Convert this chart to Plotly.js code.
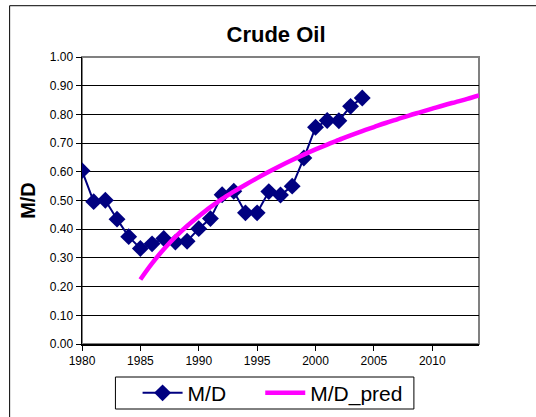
<!DOCTYPE html>
<html>
<head>
<meta charset="utf-8">
<script src="https://cdn.plot.ly/plotly-3.0.1.min.js"></script>
<style>
html,body{margin:0;padding:0;background:#fff;}
#chart{width:536px;height:417px;}
</style>
</head>
<body>
<div id="chart"></div>
<script>
const years = [1980,1981,1982,1983,1984,1985,1986,1987,1988,1989,1990,1991,1992,1993,1994,1995,1996,1997,1998,1999,2000,2001,2002,2003,2004];
const mdValues = [0.604,0.496,0.501,0.435,0.374,0.333,0.349,0.368,0.355,0.358,0.402,0.437,0.520,0.532,0.457,0.457,0.531,0.519,0.550,0.648,0.755,0.779,0.778,0.828,0.857];
const predYears = [1985,1986,1987,1988,1989,1990,1991,1992,1993,1994,1995,1996,1997,1998,1999,2000,2001,2002,2003,2004,2005,2006,2007,2008,2009,2010,2011,2012,2013,2014];
const predValues = [0.225,0.281,0.330,0.373,0.411,0.445,0.477,0.506,0.531,0.555,0.578,0.600,0.621,0.641,0.660,0.678,0.695,0.711,0.727,0.742,0.756,0.770,0.783,0.796,0.808,0.820,0.832,0.843,0.854,0.866];
const xTicks = [1980,1985,1990,1995,2000,2005,2010];
const yTicks = [0,0.1,0.2,0.3,0.4,0.5,0.6,0.7,0.8,0.9,1.0];
const seriesNames = ['M/D', 'M/D_pred'];

const font = "Arial, 'Liberation Sans', sans-serif";
const pad = '\u00a0\u00a0\u00a0\u00a0\u00a0';

const traces = [
  {
    x: years, y: mdValues, name: seriesNames[0] + pad, type: 'scatter', mode: 'lines+markers',
    line: {color: '#000080', width: 2},
    marker: {symbol: 'diamond', size: 13, color: '#000080'}
  },
  {
    x: predYears, y: predValues, name: seriesNames[1], type: 'scatter', mode: 'lines',
    line: {color: '#FF00FF', width: 4.5, shape: 'spline'}
  }
];

const layout = {
  width: 536, height: 417,
  margin: {l: 82, r: 57, t: 57, b: 73, autoexpand: false},
  paper_bgcolor: '#ffffff', plot_bgcolor: '#ffffff',
  font: {family: font, color: '#000', size: 12},
  showlegend: true,
  title: {text: '<b>Crude Oil</b>', font: {family: font, size: 22, color: '#000'}, x: 0.515, xanchor: 'center', y: 0.918, yanchor: 'middle'},
  xaxis: {
    range: [1980, 2014], tickvals: xTicks, ticktext: xTicks.map(String),
    showgrid: false, zeroline: false, showline: true, linecolor: '#000', linewidth: 1.5,
    ticks: 'outside', ticklen: 5, tickcolor: '#000', tickwidth: 1,
    tickfont: {family: font, size: 12, color: '#000'}, fixedrange: true
  },
  yaxis: {
    range: [0, 1], tickvals: yTicks, ticktext: yTicks.map(v => v.toFixed(2)),
    showgrid: true, gridcolor: '#000', gridwidth: 1, zeroline: false,
    showline: true, linecolor: '#000', linewidth: 1.5,
    ticks: 'outside', ticklen: 5, tickcolor: '#000', tickwidth: 1,
    tickfont: {family: font, size: 12, color: '#000'},
    title: {text: '<b>M/D</b>', font: {family: font, size: 20, color: '#000'}, standoff: 8},
    fixedrange: true
  },
  legend: {
    orientation: 'h', x: 0.14, xanchor: 'left', y: -0.10, yanchor: 'top',
    borderwidth: 0, bgcolor: 'rgba(0,0,0,0)',
    font: {family: font, size: 21, color: '#000'},
    itemwidth: 40, tracegroupgap: 0
  },
  shapes: [
    {type: 'rect', xref: 'paper', yref: 'paper', x0: 0, x1: 1, y0: 0, y1: 1,
     line: {color: '#808080', width: 2}, layer: 'below'},
    {type: 'rect', xref: 'paper', yref: 'paper', x0: -0.1823, x1: 2, y0: -2, y1: 1.1787,
     line: {color: '#000', width: 1}, fillcolor: 'rgba(0,0,0,0)', layer: 'below'},
    {type: 'rect', xref: 'paper', yref: 'paper', x0: 0.0842, x1: 0.836, y0: -0.2265, y1: -0.115,
     line: {color: '#000', width: 1}, fillcolor: 'rgba(0,0,0,0)', layer: 'above'}
  ]
};

Plotly.newPlot('chart', traces, layout, {displayModeBar: false, staticPlot: true});
</script>
</body>
</html>
